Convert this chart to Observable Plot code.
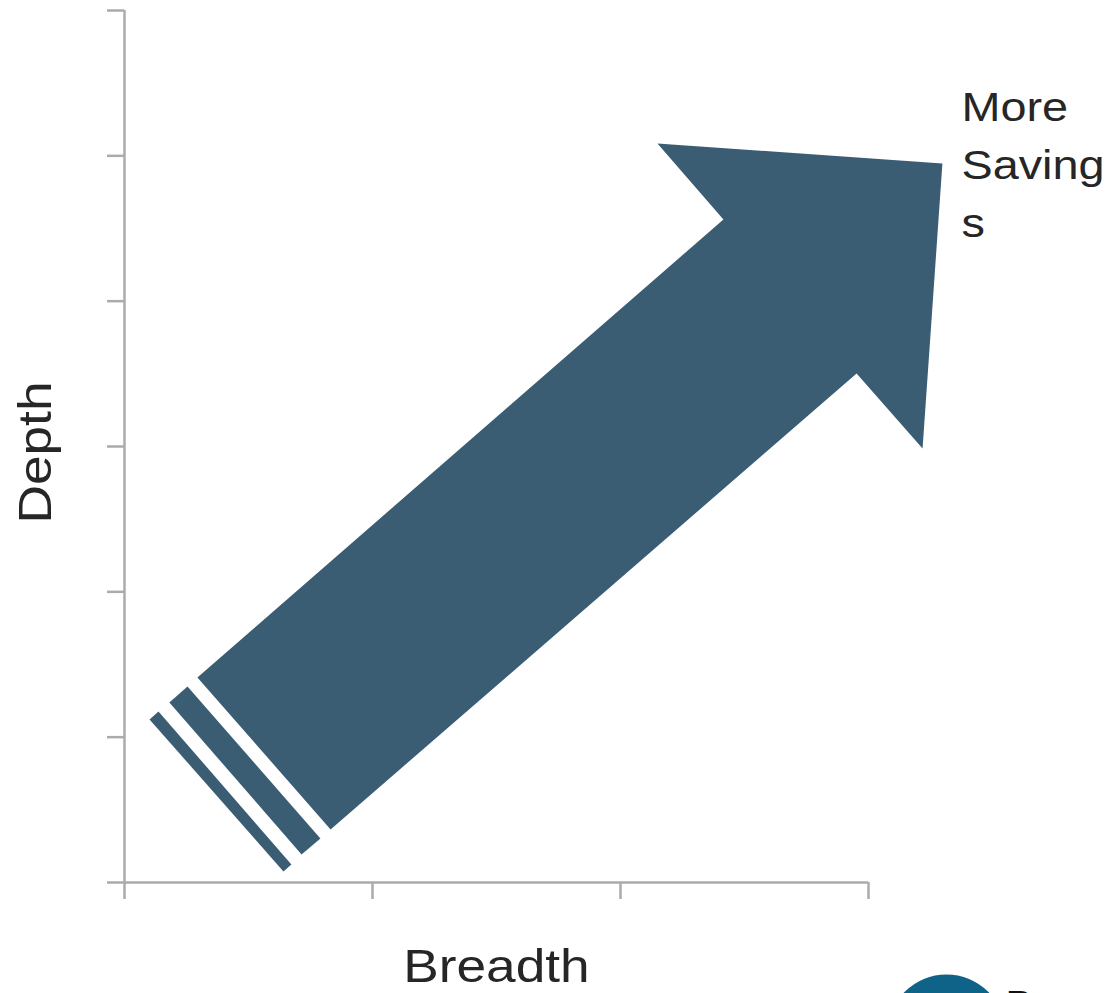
<!DOCTYPE html>
<html>
<head>
<meta charset="utf-8">
<script src="https://cdn.jsdelivr.net/npm/d3@7"></script>
<script src="https://cdn.jsdelivr.net/npm/@observablehq/plot@0.6"></script>
<style>
  html, body { margin: 0; padding: 0; background: #fff; overflow: hidden; }
</style>
</head>
<body>
<script>
// Axis ticks (no tick labels shown in the reference)
const xTicks = [0, 1, 2, 3];
const yTicks = [0, 1, 2, 3, 4, 5, 6];

// Axis titles and annotation
const xTitle = ["Breadth"];
const yTitle = ["Depth"];
const arrowNote = ["More\nSaving\ns"];
const logoText = ["P"];

// Arrow shapes, vertices in data units (breadth, depth)
const arrowBodyX = [0.294, 2.415, 2.149, 3.298, 3.218, 2.952, 0.831];
const arrowBodyY = [1.411, 4.562, 5.085, 4.947, 2.986, 3.502, 0.365];
const stripeInnerX = [0.181, 0.254, 0.790, 0.714];
const stripeInnerY = [1.239, 1.349, 0.303, 0.193];
const stripeOuterX = [0.101, 0.137, 0.673, 0.641];
const stripeOuterY = [1.122, 1.177, 0.124, 0.076];

const shapes = [
  {name: "body", xs: arrowBodyX, ys: arrowBodyY},
  {name: "stripe1", xs: stripeInnerX, ys: stripeInnerY},
  {name: "stripe2", xs: stripeOuterX, ys: stripeOuterY}
];
const rows = shapes.flatMap(s => s.xs.map((x, i) => ({shape: s.name, x, y: s.ys[i]})));

const arrowColor = "#3b5d74";
const axisColor = "#ababab";
const textColor = "#262626";
const font = "'Liberation Sans', Arial, Helvetica, sans-serif";

const chart = Plot.plot({
  width: 1110,
  height: 993,
  marginLeft: 124,
  marginRight: 242,
  marginTop: 10,
  marginBottom: 111,
  style: {fontFamily: font, background: "#fff", overflow: "visible"},
  x: {domain: [0, 3], axis: null},
  y: {domain: [0, 6], axis: null},
  marks: [
    Plot.axisY({ticks: yTicks, tickSize: 17, tickFormat: () => "", stroke: axisColor, strokeWidth: 2.5, label: null}),
    Plot.axisX({ticks: xTicks, tickSize: 17, tickFormat: () => "", stroke: axisColor, strokeWidth: 2.5, label: null}),
    Plot.ruleX([0], {stroke: axisColor, strokeWidth: 2.5}),
    Plot.ruleY([0], {stroke: axisColor, strokeWidth: 2.5}),
    Plot.line(rows, {x: "x", y: "y", z: "shape", fill: arrowColor, stroke: "none", curve: "linear-closed"}),
    Plot.text(yTitle, {frameAnchor: "left", textAnchor: "middle", lineAnchor: "middle", rotate: -90, dx: -88, dy: 6, fontSize: 45.5, fill: textColor}),
    Plot.text(xTitle, {frameAnchor: "bottom", textAnchor: "middle", lineAnchor: "middle", dx: 0, dy: 85, fontSize: 45.5, fill: textColor}),
    Plot.text(arrowNote, {frameAnchor: "top-right", textAnchor: "start", lineAnchor: "top", dx: 93, dy: 70, fontSize: 40, lineHeight: 1.44, fill: textColor}),
    Plot.dot([0], {frameAnchor: "bottom-right", dx: 78, dy: 151, r: 59, fill: "#0f6388", stroke: "none"}),
    Plot.text(logoText, {frameAnchor: "bottom-right", dx: 137, dy: 108, textAnchor: "start", lineAnchor: "top", fontSize: 40, fill: "#111"})
  ]
});

// The reference's lettering is stretched (~1.17x) along its reading direction
const stretched = new Set([...xTitle, ...yTitle, ...arrowNote.map(s => s.replace(/\n/g, ""))]);
d3.select(chart).selectAll("text")
  .filter(function () { return stretched.has(this.textContent); })
  .attr("transform", function () {
    const t = this.getAttribute("transform") || "";
    const ax = parseFloat(this.getAttribute("x")) || 0;
    return `${t} translate(${ax},0) scale(1.17,1) translate(${-ax},0)`;
  });

document.body.appendChild(chart);
</script>
</body>
</html>
